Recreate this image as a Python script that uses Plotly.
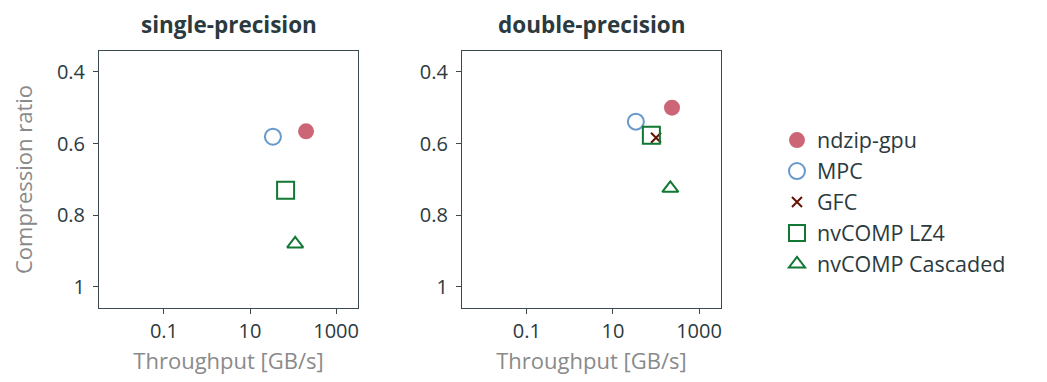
import plotly.graph_objects as go
from plotly.subplots import make_subplots

panels = ["single-precision", "double-precision"]
methods = ["ndzip-gpu", "MPC", "GFC", "nvCOMP LZ4", "nvCOMP Cascaded"]
# throughput [GB/s] and compression ratio per panel (None = not present)
single_tp = [200, 34, None, 67, 112]
single_cr = [0.566, 0.581, None, 0.730, 0.880]
double_tp = [235, 34, 100, 78, 215]
double_cr = [0.500, 0.539, 0.584, 0.577, 0.725]

colors = ["#CC6677", "#6699CC", "#661100", "#117733", "#117733"]
symbols = ["circle", "circle-open", "x-thin-open", "square-open", "triangle-up-open"]
sizes = [16, 16, 10, 17, 14]
lw = [0, 2, 2, 2, 2]

x_ticks = [0.1, 10, 1000]
x_ticktext = ["0.1", "10", "1000"]
y_ticks = [0.4, 0.6, 0.8, 1.0]
y_ticktext = ["0.4", "0.6", "0.8", "1"]

FONT = "Open Sans"
TXT = "#2b3a3e"
GRAY = "#8a8a8a"

fig = make_subplots(rows=1, cols=2, horizontal_spacing=0.167)

for col, (tp, cr) in enumerate([(single_tp, single_cr), (double_tp, double_cr)], start=1):
    for i, m in enumerate(methods):
        if tp[i] is None:
            continue
        fig.add_trace(go.Scatter(
            x=[tp[i]], y=[cr[i]], mode="markers", name=m, legendgroup=m,
            showlegend=(col == 2),
            marker=dict(symbol=symbols[i], size=sizes[i], color=colors[i],
                        line=dict(width=lw[i], color=colors[i])),
        ), row=1, col=col)

order = {m: k for k, m in enumerate(methods)}
fig.data = tuple(sorted(fig.data, key=lambda t: (not t.showlegend, order[t.name])))

axis_common = dict(showline=True, linecolor="#3a4a4e", linewidth=1, mirror=True,
                   ticks="outside", ticklen=5, tickcolor="#3a4a4e", showgrid=False,
                   zeroline=False, automargin=False,
                   tickfont=dict(family=FONT, size=20, color=TXT))
for col in (1, 2):
    fig.update_xaxes(type="log", range=[-2.51, 3.51], tickvals=x_ticks, ticktext=x_ticktext,
                     title=dict(text="Throughput [GB/s]", font=dict(family=FONT, size=22, color=GRAY), standoff=10),
                     row=1, col=col, **axis_common)
    fig.update_yaxes(range=[1.0586, 0.342], tickvals=y_ticks, ticktext=y_ticktext,
                     ticklabelstandoff=4, row=1, col=col, **axis_common)
fig.update_yaxes(title=dict(text="Compression ratio", font=dict(family=FONT, size=22, color=GRAY), standoff=24), row=1, col=1)

fig.update_layout(
    width=1047, height=382,
    margin=dict(l=91, r=334, t=43, b=82),
    plot_bgcolor="white", paper_bgcolor="white",
    font=dict(family=FONT, color=TXT),
    legend=dict(x=1.09, y=0.733, xanchor="left", yanchor="top",
                font=dict(family=FONT, size=21.5, color=TXT), tracegroupgap=0,
                itemsizing="trace"),
    annotations=[
        dict(text="<b>single-precision</b>", x=0.2083, y=1.0, xref="paper", yref="paper",
             xanchor="center", yanchor="bottom", yshift=9, showarrow=False,
             font=dict(family=FONT, size=22.5, color=TXT)),
        dict(text="<b>double-precision</b>", x=0.792, y=1.0, xref="paper", yref="paper",
             xanchor="center", yanchor="bottom", yshift=9, showarrow=False,
             font=dict(family=FONT, size=22.5, color=TXT)),
    ],
)

fig.write_html("out.html")
